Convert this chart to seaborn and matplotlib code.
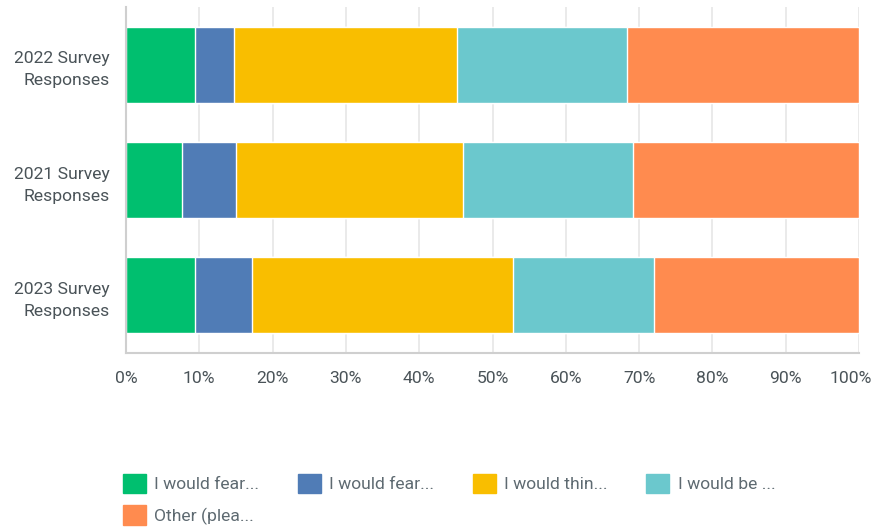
import matplotlib
matplotlib.use("Agg")
import matplotlib.pyplot as plt
import matplotlib.transforms as mtransforms
import seaborn as sns
import numpy as np
import pandas as pd
from matplotlib.patches import Patch

categories = ["2022 Survey\nResponses", "2021 Survey\nResponses", "2023 Survey\nResponses"]
series_names = ["I would fear...", "I would fear...", "I would thin...", "I would be ...", "Other (plea..."]
green = [9.4, 7.6, 9.4]
blue = [5.3, 7.4, 7.8]
yellow = [30.5, 31.0, 35.6]
teal = [23.2, 23.2, 19.2]
other = [31.6, 30.8, 28.0]
colors = ["#00BF6F", "#507CB6", "#F9BE00", "#6BC8CD", "#FF8B4F"]
xticks = [0, 10, 20, 30, 40, 50, 60, 70, 80, 90, 100]

sns.set_theme(style="white")
plt.rcParams['font.family'] = ['Roboto', 'DejaVu Sans']

series = [green, blue, yellow, teal, other]
cum = np.cumsum(np.array(series), axis=0)

fig = plt.figure(figsize=(8.74, 5.29), dpi=100)
ax = fig.add_axes([126/874, 1-353/529, (859-126)/874, (353-7)/529])

for i in range(len(series) - 1, -1, -1):
    df = pd.DataFrame({"cat": categories, "val": cum[i]})
    sns.barplot(data=df, x="val", y="cat", orient="h", color=colors[i],
                width=0.66, saturation=1, ax=ax, zorder=2)

ax.set_xlim(0, 100)
ax.set_ylim(2.5, -0.5)
ax.set_xticks(xticks)
ax.set_xticklabels([f"{t}%" for t in xticks])
ax.set_xlabel("")
ax.set_ylabel("")
ax.grid(axis="x", color="#E6E6E6", linewidth=1.2, zorder=0)
ax.set_axisbelow(True)
for s in ["top", "right"]:
    ax.spines[s].set_visible(False)
ax.spines["left"].set_color("#CFCFCF")
ax.spines["left"].set_linewidth(1.5)
ax.spines["bottom"].set_color("#CFCFCF")
ax.spines["bottom"].set_linewidth(1.5)
ax.tick_params(axis="both", length=0, labelsize=12.6, labelcolor="#4A5358")
ax.tick_params(axis="x", pad=13)
ax.tick_params(axis="y", pad=12)
for lab in ax.get_yticklabels():
    lab.set_linespacing(1.6)
    lab.set_horizontalalignment("right")
last = ax.get_xticklabels()[-1]
last.set_transform(last.get_transform() + mtransforms.ScaledTranslation(-8/100, 0, fig.dpi_scale_trans))

handles = [Patch(facecolor=c, edgecolor=c) for c in colors]
order = [0, 4, 1, 2, 3]
leg = fig.legend([handles[i] for i in order], [series_names[i] for i in order],
                 ncol=4, loc="upper left", bbox_to_anchor=(107/874, 1-458/529),
                 frameon=False, fontsize=12.6, handlelength=1.3, handleheight=1.3,
                 handletextpad=0.5, columnspacing=2.2, labelspacing=0.72,
                 labelcolor="#5E6A71")

fig.savefig("out.png", dpi=100)
